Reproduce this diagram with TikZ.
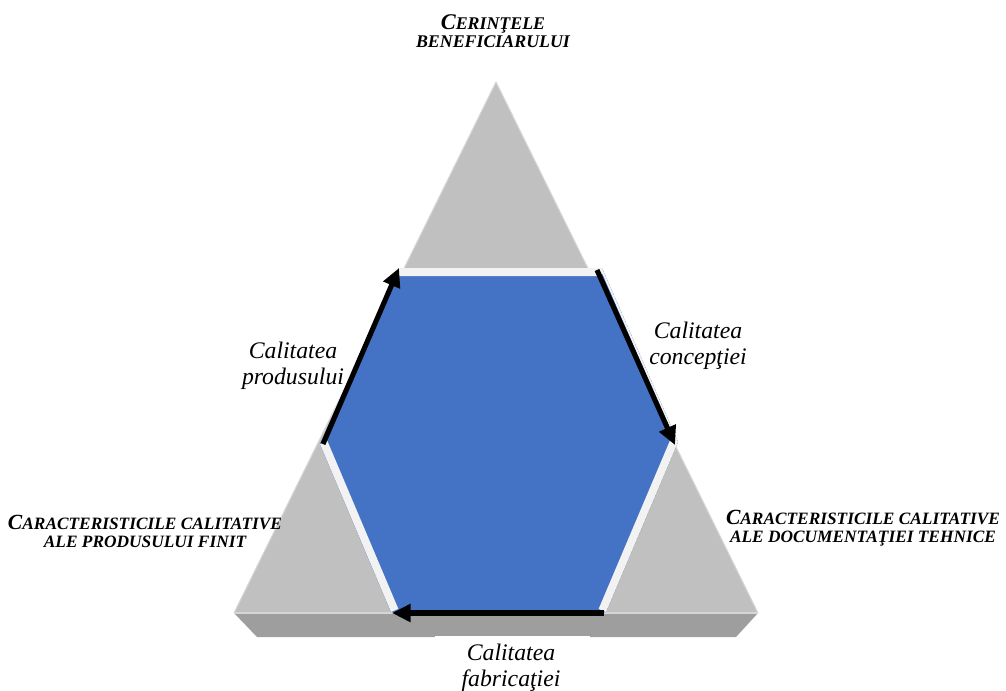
\documentclass[tikz,border=0pt]{standalone}
\usepackage{fontspec}
\setmainfont{Liberation Serif}
\usetikzlibrary{arrows.meta}
\definecolor{tri}{HTML}{C0C0C0}
\definecolor{triedge}{HTML}{D6D6D6}
\definecolor{basec}{HTML}{9E9E9E}
\definecolor{hexblue}{HTML}{4472C4}
\definecolor{hexrim}{HTML}{F2F2F2}
\definecolor{hexshadow}{HTML}{6E7E9E}
\newcommand\smc[1]{{\fontsize{13}{13}\selectfont #1}}
\newcommand\smcb[1]{{\fontsize{13.4}{13.4}\selectfont #1}}
\begin{document}
\begin{tikzpicture}[x=0.75pt,y=-0.75pt,
  flow/.style={line width=3.8pt,-{Triangle[length=14pt,width=13pt]}},
  qual/.style={font=\fontsize{17.8}{19.5}\selectfont\itshape, align=center, inner sep=0pt, anchor=base},
  corner/.style={font=\fontsize{16.2}{13.5}\selectfont\bfseries\itshape, align=center, inner sep=0pt, anchor=base}]
\useasboundingbox (0,0) rectangle (1006,690);
% big triangle
\coordinate (T) at (496,82);
\coordinate (L) at (234,613);
\coordinate (R) at (758,613);
\coordinate (BL) at (257,637);
\coordinate (BR) at (736,637);
\fill[basec] (L) -- (R) -- (BR) -- (BL) -- cycle;
\fill[tri] (T) -- (R) -- (L) -- cycle;
\draw[triedge, line width=0.8pt] (L) -- (T) -- (R);
\draw[triedge, line width=1pt] (L) -- (R);
% hexagon
\coordinate (A) at (399,268);
\coordinate (B) at (602,268);
\coordinate (C) at (678,442);
\coordinate (D) at (606,612);
\coordinate (E) at (391,612);
\coordinate (F) at (320,444);
\fill[hexshadow, shift={(4,5)}] (A) -- (B) -- (C) -- (D) -- (E) -- (F) -- cycle;
\begin{scope}
  \clip (A) -- (B) -- (C) -- (D) -- (E) -- (F) -- cycle;
  \fill[hexblue] (A) -- (B) -- (C) -- (D) -- (E) -- (F) -- cycle;
  \draw[hexrim, line width=12pt] (A) -- (B) (C) -- (D) (E) -- (F);
  \draw[hexrim, line width=3pt] (B) -- (C);
\end{scope}
% arrows
\coordinate (p1) at (323,444);
\coordinate (p2) at (399,268);
\coordinate (q1) at (597,270);
\coordinate (q2) at (675,445);
\coordinate (r1) at (604,613);
\coordinate (r2) at (392,613);
\draw[flow] (p1) -- (p2);
\draw[flow] (q1) -- (q2);
\draw[flow] (r1) -- (r2);
% labels
\node[corner, font=\fontsize{16.8}{13.5}\selectfont\bfseries\itshape] (top) at (493,47) {C\smcb{ERINŢELE}\\\smcb{BENEFICIARULUI}};
\node[corner] (left) at (145,547) {C\smc{ARACTERISTICILE CALITATIVE}\\\smc{ALE PRODUSULUI FINIT}};
\node[corner] (right) at (863,542) {C\smc{ARACTERISTICILE CALITATIVE}\\\smc{ALE DOCUMENTAŢIEI TEHNICE}};
\node[qual] (prod) at (293,384) {Calitatea\\produsului};
\node[qual] (conc) at (698,364) {Calitatea\\concepţiei};
\fill[white] (435,636) rectangle (590,690);
\node[qual] (fab) at (511,686) {Calitatea\\fabricaţiei};
\end{tikzpicture}
\end{document}
